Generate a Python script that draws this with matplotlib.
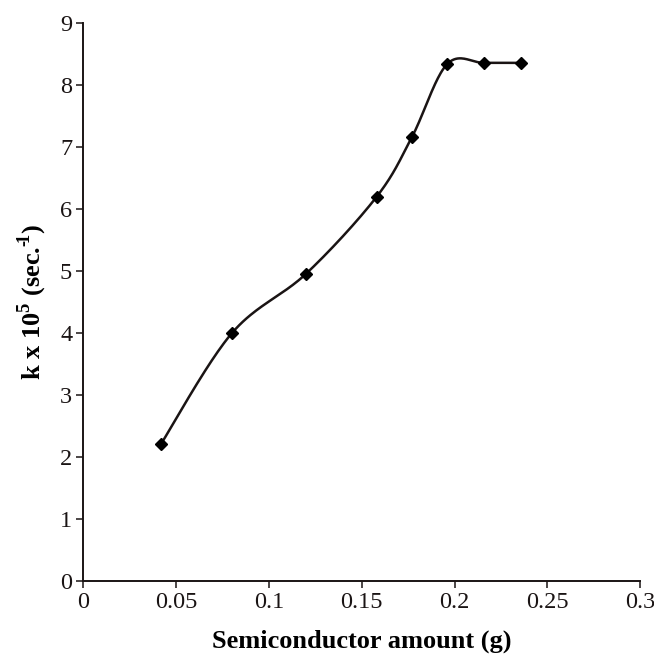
import matplotlib
matplotlib.use("Agg")
import matplotlib.pyplot as plt
import numpy as np

# data
amount = [0.042, 0.080, 0.120, 0.158, 0.177, 0.196, 0.216, 0.236]
k_val = [2.21, 3.99, 4.95, 6.19, 7.15, 8.33, 8.35, 8.35]

x_ticks = [0, 0.05, 0.1, 0.15, 0.2, 0.25, 0.3]
x_tick_labels = ["0", "0.05", "0.1", "0.15", "0.2", "0.25", "0.3"]
y_ticks = list(range(0, 10))


def smooth_curve(xs, ys, n=40):
    # Excel-like smoothed line: Catmull-Rom segments as cubic Bezier
    pts = np.column_stack([xs, ys])
    out = []
    for i in range(len(pts) - 1):
        p0 = pts[i - 1] if i > 0 else pts[i]
        p1 = pts[i]
        p2 = pts[i + 1]
        p3 = pts[i + 2] if i + 2 < len(pts) else pts[i + 1]
        c1 = p1 + (p2 - p0) / 6.0
        c2 = p2 - (p3 - p1) / 6.0
        t = np.linspace(0, 1, n)[:, None]
        seg = ((1 - t) ** 3) * p1 + 3 * ((1 - t) ** 2) * t * c1 \
            + 3 * (1 - t) * t ** 2 * c2 + t ** 3 * p2
        out.append(seg if i == 0 else seg[1:])
    out = np.vstack(out)
    return out[:, 0], out[:, 1]


plt.rcParams['font.family'] = ['Liberation Serif', 'DejaVu Serif']
plt.rcParams['mathtext.fontset'] = 'custom'
plt.rcParams['mathtext.rm'] = 'Liberation Serif'
plt.rcParams['mathtext.bf'] = 'Liberation Serif:bold'

fig = plt.figure(figsize=(6.54, 6.64), dpi=100)
ax = fig.add_axes([0.127, 0.125, 0.852, 0.841])

sx, sy = smooth_curve(np.array(amount), np.array(k_val))
ax.plot(sx, sy, color='#1a1414', lw=1.8, zorder=2)
ax.plot(amount, k_val, linestyle='none', marker='D', markersize=6,
        color='black', zorder=3)

ax.set_xlim(0, 0.3)
ax.set_ylim(0, 9)
ax.set_xticks(x_ticks)
ax.set_xticklabels(x_tick_labels)
ax.set_yticks(y_ticks)

for side in ['top', 'right']:
    ax.spines[side].set_visible(False)
for side in ['left', 'bottom']:
    ax.spines[side].set_linewidth(1.4)
    ax.spines[side].set_color('#1a1414')

ax.tick_params(direction='out', length=4.8, width=1.1, labelsize=17.5,
               colors='#1a1414', pad=3)

ax.set_xlabel('Semiconductor amount (g)', fontsize=19, fontweight='bold',
              labelpad=12)
ax.set_ylabel('k x 10$^{\\mathbf{5}}$ (sec.$^{\\mathbf{\u2010\\!1}}$)',
              fontsize=19, fontweight='bold', labelpad=8)

fig.savefig('out.png', dpi=100, facecolor='white')
